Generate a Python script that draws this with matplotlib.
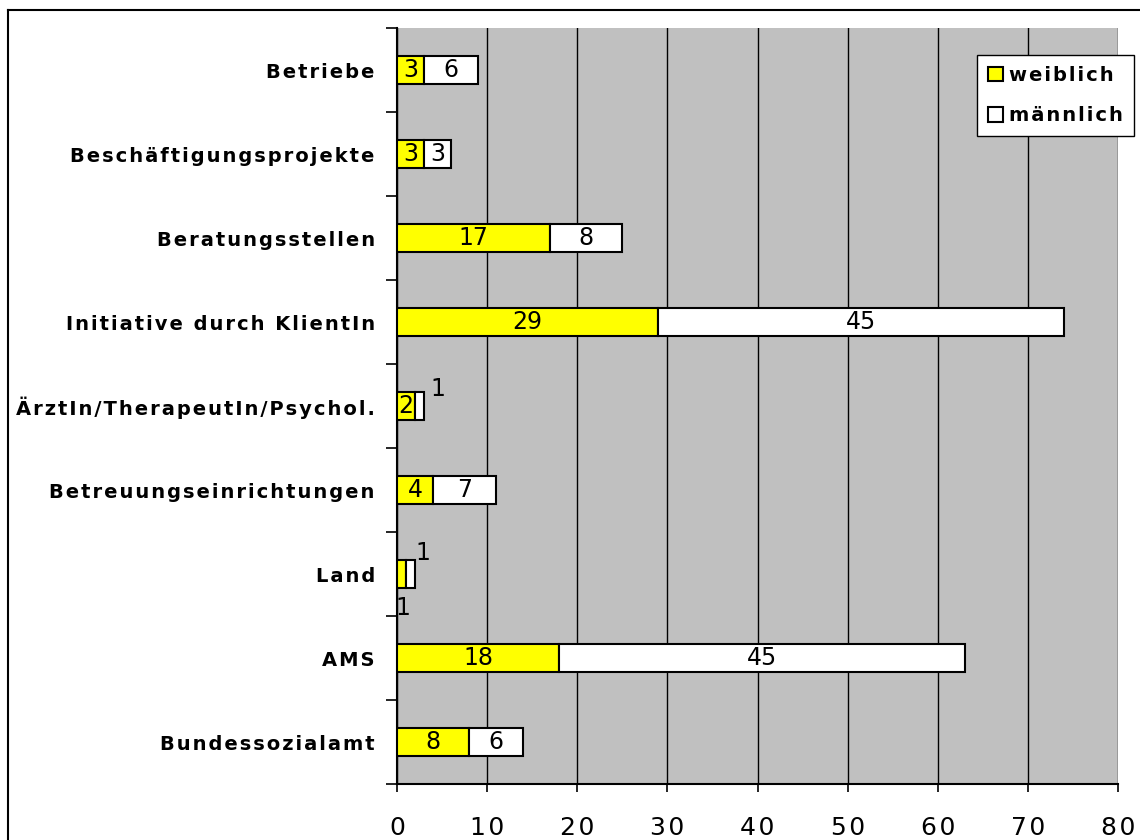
import matplotlib
matplotlib.use("Agg")
from matplotlib import pyplot as plt
from matplotlib.lines import Line2D
import numpy as np

categories = [
    "Betriebe",
    "Beschäftigungsprojekte",
    "Beratungsstellen",
    "Initiative durch KlientIn",
    "ÄrztIn/TherapeutIn/Psychol.",
    "Betreuungseinrichtungen",
    "Land",
    "AMS",
    "Bundessozialamt",
]
weiblich = [3, 3, 17, 29, 2, 4, 1, 18, 8]
maennlich = [6, 3, 8, 45, 1, 7, 1, 45, 6]
series_names = ["weiblich", "männlich"]
xticks = [0, 10, 20, 30, 40, 50, 60, 70, 80]


def spaced(s):
    # fake the wide letter spacing of the original with hair spaces
    return "\u200a".join(s)


fig = plt.figure(figsize=(11.4, 8.4), dpi=100)
ax = fig.add_axes([397 / 1140, 1 - 784 / 840, (1118 - 397) / 1140, (784 - 28) / 840])
ax.set_facecolor("#C0C0C0")

n = len(categories)
ypos = np.arange(n)
h = 0.333

ax.barh(ypos, weiblich, height=h, color="#FFFF00", edgecolor="black", linewidth=1.5,
        label=spaced(series_names[0]), zorder=3)
ax.barh(ypos, maennlich, left=weiblich, height=h, color="white", edgecolor="black",
        linewidth=1.5, label=spaced(series_names[1]), zorder=3)

num_font = dict(fontsize=17, color="black", zorder=4)
for i in range(n):
    w, m = weiblich[i], maennlich[i]
    # labels that don't fit inside their segment sit outside (as in Excel)
    if categories[i] == "Land":
        ax.text(w / 2 + 0.2, i + 0.4, str(w), ha="center", va="center", **num_font)
        ax.text(w + m / 2 + 1.4, i - 0.25, str(m), ha="center", va="center", **num_font)
    elif categories[i].startswith("Ärzt"):
        ax.text(w / 2, i, str(w), ha="center", va="center", **num_font)
        ax.text(w + m + 1.5, i - 0.2, str(m), ha="center", va="center", **num_font)
    else:
        ax.text(w / 2, i, str(w), ha="center", va="center", **num_font)
        ax.text(w + m / 2, i, str(m), ha="center", va="center", **num_font)

ax.set_xlim(0, 80)
ax.set_ylim(n - 0.5, -0.5)
ax.set_xticks(xticks)
ax.set_xticklabels([spaced(str(x)) for x in xticks], fontsize=18)
ax.tick_params(axis="x", length=6, width=1.2, pad=17, direction="out")
ax.xaxis.grid(True, color="black", linewidth=1.0, zorder=1)
ax.set_axisbelow(True)

ax.set_yticks(np.arange(n + 1) - 0.5)
ax.set_yticklabels([])
ax.set_yticks(ypos, minor=True)
ax.set_yticklabels([spaced(c) for c in categories], minor=True, fontsize=14, fontweight="bold")
ax.tick_params(axis="y", which="major", length=8, width=1.2, direction="out")
ax.tick_params(axis="y", which="minor", length=0, pad=16)

for s in ["top", "right"]:
    ax.spines[s].set_visible(False)
ax.spines["left"].set_linewidth(1.5)
ax.spines["bottom"].set_linewidth(1.5)

leg = ax.legend(loc="upper left", bbox_to_anchor=(977 / 1140, 1 - 55 / 840),
                bbox_transform=fig.transFigure, frameon=True, fancybox=False,
                framealpha=1, facecolor="white",
                prop=dict(size=14, weight="bold"), handlelength=0.8, handleheight=0.8,
                handletextpad=0.3, labelspacing=1.1, borderpad=0.55, borderaxespad=0)
leg.get_frame().set_edgecolor("black")
leg.get_frame().set_linewidth(1.0)
leg.set_zorder(10)

# outer chart frame
fig.add_artist(Line2D([8 / 1140, 8 / 1140], [0, 1 - 10 / 840], color="black", linewidth=1.5,
                      transform=fig.transFigure))
fig.add_artist(Line2D([8 / 1140, 1], [1 - 10 / 840, 1 - 10 / 840], color="black", linewidth=1.5,
                      transform=fig.transFigure))

fig.savefig("out.png", dpi=100)
